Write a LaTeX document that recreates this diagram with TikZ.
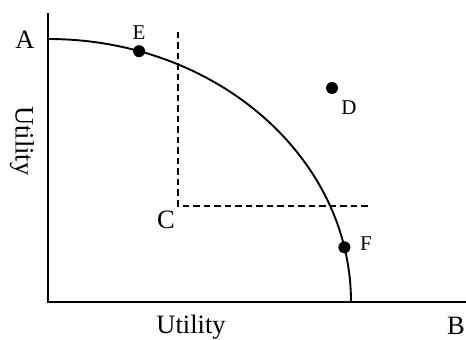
\documentclass[tikz,border=0pt]{standalone}
\usepackage{fontspec}
\setmainfont{Liberation Serif}
\usepackage{tikz}
\usetikzlibrary{calc}

\tikzset{
  bigtext/.style={font=\fontsize{26.5}{30}\selectfont},
  smalltext/.style={font=\fontsize{21}{24}\selectfont},
  dot/.style={circle, fill=black, inner sep=0pt, minimum size=12pt},
}

\begin{document}
\begin{tikzpicture}[x=1pt, y=1pt, line width=1.9pt]
    \useasboundingbox (0,0) rectangle (466,340);

    % Axes
    \coordinate (O) at (48,38);
    \coordinate (ytop) at (48,327);
    \coordinate (xend) at (466,38);
    \draw (ytop) -- (O) -- (xend);
    \node[bigtext] (A) at (25,300) {A};
    \node[bigtext] (B) at (456,14) {B};
    \node[bigtext] (xlab) at (191,13) {Utility};
    \node[bigtext, rotate=-90] (ylab) at (22,199) {Utility};

    % Frontier
    \draw (48,301) arc[start angle=90, end angle=0, x radius=303, y radius=263];

    % Point C and its quadrant
    \coordinate (C) at (178,134);
    \draw[dashed, dash pattern=on 6.5pt off 4pt] (178,308) -- (C) -- (368,134);
    \node[bigtext] (Clab) at (166,120) {C};

    % Points on and off the frontier
    \node[dot] (E) at ($(O)+(72.5:303 and 263)$) {};
    \node[smalltext] at (139,307) {E};
    \node[dot] (F) at ($(O)+(12:303 and 263)$) {};
    \node[smalltext] at (366,96) {F};
    \node[dot] (D) at (332,252) {};
    \node[smalltext] at (349,232) {D};
\end{tikzpicture}
\end{document}
